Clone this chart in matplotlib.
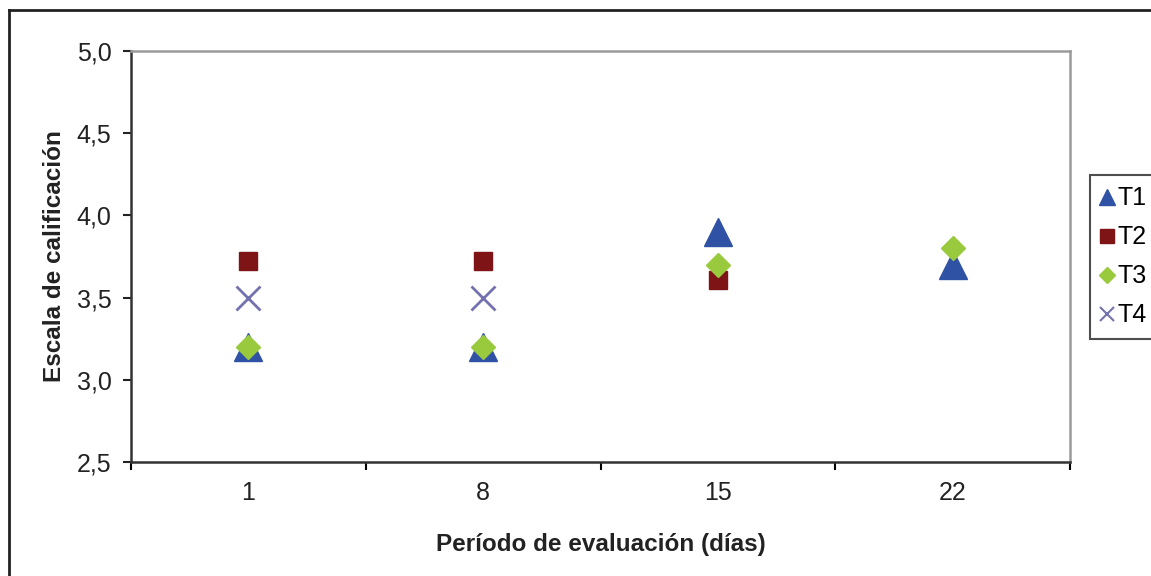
import numpy as np
import matplotlib
matplotlib.use("Agg")
import matplotlib.pyplot as plt
from matplotlib.lines import Line2D
from matplotlib.ticker import FixedLocator, FuncFormatter

plt.rcParams['font.family'] = ['Liberation Sans', 'DejaVu Sans']

# Evaluation days and ratings per treatment (nan = no reading)
dias = ['1', '8', '15', '22']
t1 = [3.2, 3.2, 3.9, 3.7]
t2 = [3.72, 3.72, 3.61, np.nan]
t3 = [3.2, 3.2, 3.7, 3.8]
t4 = [3.5, 3.5, np.nan, np.nan]

W, H = 1151, 576
fig = plt.figure(figsize=(W / 100, H / 100), dpi=100)
ax = fig.add_axes([131 / W, (H - 462) / H, (1070 - 131) / W, (462 - 51) / H])

x = np.arange(len(dias))
series = [
    ('T1', t1, dict(marker='^', color='#2F52A4', markersize=20)),
    ('T2', t2, dict(marker='s', color='#7E1416', markersize=13.5)),
    ('T3', t3, dict(marker='D', color='#99C93C', markersize=12.5)),
    ('T4', t4, dict(marker='x', color='#7371AE', markersize=17, markeredgewidth=2)),
]
for name, vals, style in series:
    ax.plot(x, vals, linestyle='none', label=name, **style)

ax.set_xlim(-0.5, len(dias) - 0.5)
ax.set_ylim(2.5, 5.0)

# category labels centred, tick marks on the boundaries
ax.xaxis.set_major_locator(FixedLocator(x))
ax.set_xticklabels(dias)
ax.xaxis.set_minor_locator(FixedLocator(np.arange(-0.5, len(dias), 1.0)))
ax.tick_params(axis='x', which='major', length=0, pad=14, labelsize=18)
ax.tick_params(axis='x', which='minor', length=6, width=1.5, direction='out')

ax.set_yticks(np.arange(2.5, 5.01, 0.5))
ax.yaxis.set_major_formatter(FuncFormatter(lambda v, _: f'{v:.1f}'.replace('.', ',')))
ax.tick_params(axis='y', length=6, width=1.5, direction='out', pad=8, labelsize=18)

ax.tick_params(colors='#222222')
for side in ('left', 'bottom'):
    ax.spines[side].set_color('#333333')
    ax.spines[side].set_linewidth(1.8)
for side in ('top', 'right'):
    ax.spines[side].set_color('#9a9a9a')
    ax.spines[side].set_linewidth(1.8)

ax.set_xlabel('Período de evaluación (días)', fontsize=17.5, fontweight='bold',
              labelpad=20, color='#222222')
ax.set_ylabel('Escala de calificación', fontsize=17.5, fontweight='bold',
              labelpad=8, color='#222222')

leg = ax.legend(loc='upper left', bbox_to_anchor=(1090 / W, 1 - 175 / H),
                bbox_transform=fig.transFigure, frameon=True, fancybox=False,
                fontsize=18, handlelength=0.45, handletextpad=0.2,
                labelspacing=0.6, borderpad=0.45, borderaxespad=0)
leg.get_frame().set_edgecolor('#222222')
leg.get_frame().set_linewidth(1.5)
for h, ms in zip(leg.legend_handles, [11, 10.5, 8.5, 10.5]):
    h.set_markersize(ms)
leg.legend_handles[3].set_markeredgewidth(1.5)

# outer chart frame (left and top edges visible)
fig.add_artist(Line2D([9 / W, 9 / W], [0, 1 - 10 / H], transform=fig.transFigure,
                      color='#222222', linewidth=2))
fig.add_artist(Line2D([9 / W, 1], [1 - 10 / H, 1 - 10 / H], transform=fig.transFigure,
                      color='#222222', linewidth=2))

fig.savefig('out.png', dpi=100)
